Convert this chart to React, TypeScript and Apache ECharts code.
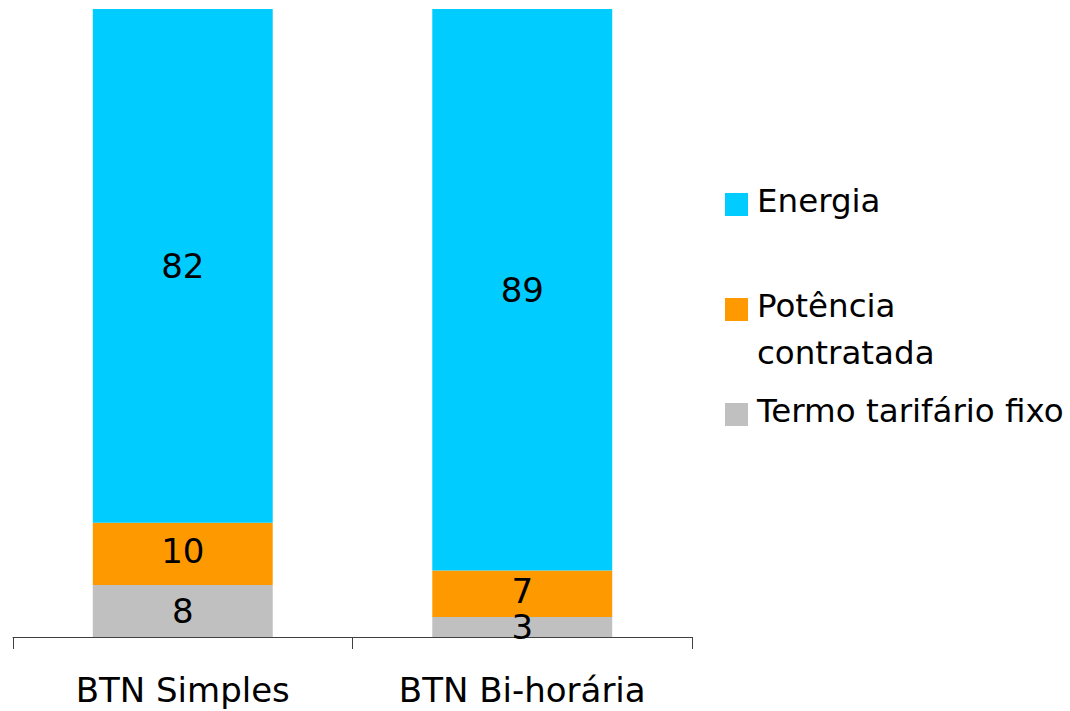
import React, { useEffect, useRef } from "react";
import * as echarts from "echarts";

const categories = ["BTN Simples", "BTN Bi-horária"];
const seriesNames = ["Termo tarifário fixo", "Potência contratada", "Energia"];
const termoValues = [8.3, 3.2];
const potenciaValues = [9.9, 7.4];
const energiaValues = [81.8, 89.4];
const colors = ["#C0C0C0", "#FF9900", "#00CCFF"];
const legendLabels = [
  { name: "Energia", lines: ["Energia"], color: "#00CCFF" },
  { name: "Potência contratada", lines: ["Potência", "contratada"], color: "#FF9900" },
  { name: "Termo tarifário fixo", lines: ["Termo tarifário fixo"], color: "#C0C0C0" },
];

const FONT = "DejaVu Sans";

export default function App() {
  const ref = useRef<HTMLDivElement>(null);
  useEffect(() => {
    if (!ref.current) return;
    const chart = echarts.init(ref.current, undefined, { renderer: "svg" });
    const values = [termoValues, potenciaValues, energiaValues];
    const label = {
      show: true,
      position: "inside",
      color: "#000",
      fontFamily: FONT,
      fontSize: 34,
      formatter: (p: any) => String(Math.round(p.value)),
    };
    const squareTops = [193, 298, 403];
    const graphicEls: any[] = [];
    legendLabels.forEach((item, i) => {
      graphicEls.push({
        type: "rect",
        shape: { x: 725, y: squareTops[i], width: 23, height: 23 },
        style: { fill: item.color },
      });
      item.lines.forEach((line, j) => {
        graphicEls.push({
          type: "text",
          x: 757,
          y: squareTops[i] + 8 + j * 47,
          style: {
            text: line,
            fontFamily: FONT,
            fontSize: 32.5,
            fill: "#000",
            verticalAlign: "middle",
            align: "left",
          },
        });
      });
    });
    chart.setOption({
      animation: false,
      grid: { left: 13, right: 378, top: 9, bottom: 74 },
      xAxis: {
        type: "category",
        data: categories,
        axisLine: { lineStyle: { color: "#404040", width: 1 } },
        axisTick: { show: true, length: 12, lineStyle: { color: "#404040" } },
        axisLabel: { color: "#000", fontFamily: FONT, fontSize: 34, margin: 36 },
      },
      yAxis: { type: "value", min: 0, max: 100, show: false, splitLine: { show: false } },
      series: seriesNames.map((name, i) => ({
        name,
        type: "bar",
        stack: "total",
        barWidth: "53%",
        data: values[i],
        itemStyle: { color: colors[i] },
        label: i === 1 ? { ...label, offset: [0, -3] } : label,
      })),
      graphic: graphicEls,
    });
    return () => chart.dispose();
  }, []);
  return (
    <div
      ref={ref}
      style={{ position: "fixed", left: 0, top: 0, width: 1070, height: 711, background: "#fff" }}
    />
  );
}
